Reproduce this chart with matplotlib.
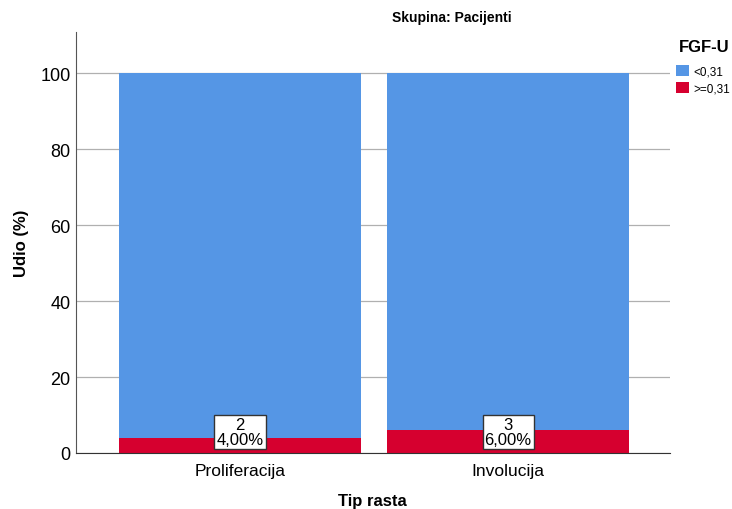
import matplotlib
matplotlib.use('Agg')
import matplotlib.pyplot as plt
from matplotlib.patches import Patch
import numpy as np

# podaci
kategorije = ['Proliferacija', 'Involucija']
udio_nisko = [96.0, 94.0]     # <0,31
udio_visoko = [4.0, 6.0]      # >=0,31
broj_visoko = [2, 3]
legenda = ['<0,31', '>=0,31']
boje = ['#5596E5', '#D6002F']

plt.rcParams['font.family'] = ['Liberation Sans', 'DejaVu Sans']

fig = plt.figure(figsize=(7.32, 5.10), dpi=100)
ax = fig.add_axes([76/732, 56/510, 594/732, 421/510])

x = np.arange(len(kategorije))
sirina = 0.903
ax.bar(x, udio_visoko, width=sirina, color=boje[1], zorder=2)
ax.bar(x, udio_nisko, width=sirina, bottom=udio_visoko, color=boje[0], zorder=2)

# oznake s brojem i postotkom
for i in range(len(kategorije)):
    ax.text(x[i], 5.5, '%d\n%s%%' % (broj_visoko[i], ('%.2f' % udio_visoko[i]).replace('.', ',')),
            ha='center', va='center', fontsize=12, linespacing=0.95, zorder=4,
            bbox=dict(boxstyle='square,pad=0.12', facecolor='white', edgecolor='#333333', linewidth=1))

ax.set_xlim(-0.612, 1.604)
ax.set_ylim(0, 110.8)
ax.set_yticks([0, 20, 40, 60, 80, 100])
ax.set_xticks(x)
ax.set_xticklabels(kategorije)
ax.tick_params(axis='y', length=0, labelsize=13, pad=4)
ax.tick_params(axis='x', length=0, labelsize=12.5, pad=7)
ax.yaxis.grid(True, color='#b0b0b0', linewidth=0.9, zorder=0)
ax.set_axisbelow(True)
for s in ['top', 'right']:
    ax.spines[s].set_visible(False)
ax.spines['left'].set_color('#555555')
ax.spines['bottom'].set_color('#333333')

ax.set_ylabel('Udio (%)', fontsize=12, fontweight='bold', labelpad=8)
fig.text(372/732, 1 - 502/510, 'Tip rasta', ha='center', va='center', fontsize=12, fontweight='bold')
fig.text(452/732, 1 - 18/510, 'Skupina: Pacijenti', ha='center', va='center', fontsize=10, fontweight='bold')

rucke = [Patch(facecolor=boje[0]), Patch(facecolor=boje[1])]
leg = fig.legend(rucke, legenda, title='FGF-U', loc='upper right', bbox_to_anchor=(730/732, 1 - 40/510),
                 frameon=False, fontsize=8.5, handlelength=1.1, handleheight=1.1, handletextpad=0.4,
                 labelspacing=0.35, borderpad=0, borderaxespad=0,
                 title_fontproperties={'weight': 'bold', 'size': 12})
leg._legend_box.align = 'right'
leg._legend_box.sep = 8

fig.savefig('out.png', dpi=100)
